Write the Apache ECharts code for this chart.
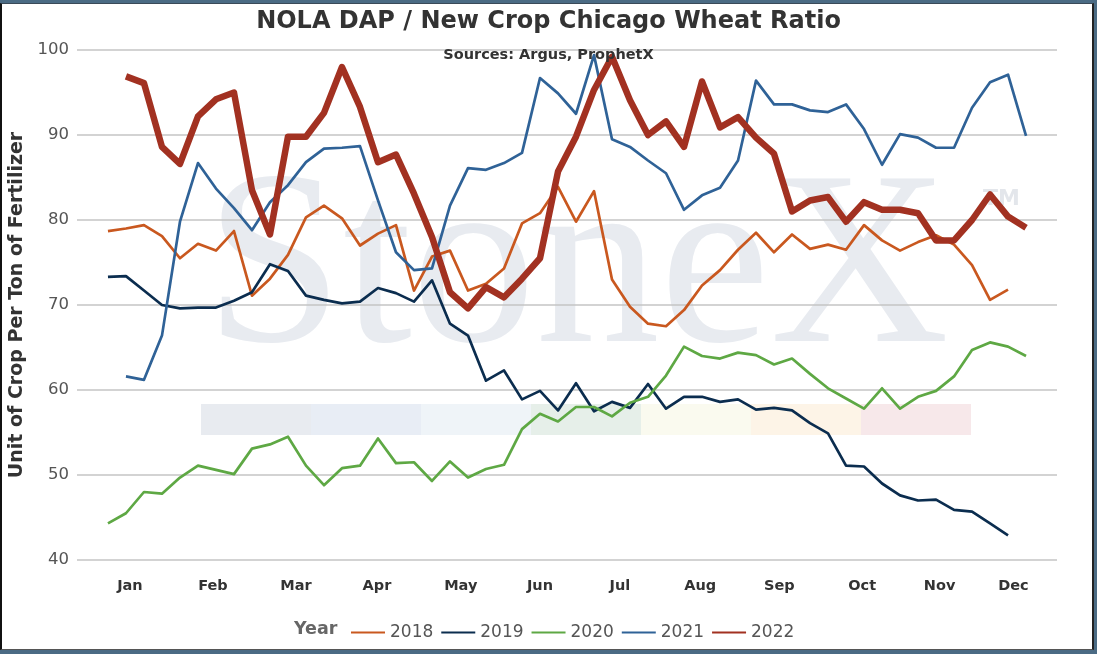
<!DOCTYPE html>
<html>
<head>
<meta charset="utf-8">
<title>NOLA DAP / New Crop Chicago Wheat Ratio</title>
<script src="https://cdn.jsdelivr.net/npm/echarts@6/dist/echarts.min.js"></script>
<style>
  html, body { margin: 0; padding: 0; background: #4b6b84; }
  #frame {
    position: absolute; left: 0; top: 3px; width: 1094px; height: 647px;
    background: #fff; border-left: 2px solid #111; border-right: 2px solid #222;
    border-top: 1px solid #3a4a58; border-bottom: 1px solid #555;
    box-sizing: border-box;
  }
  #chart { position: absolute; left: 0; top: 0; width: 1097px; height: 654px; }
</style>
</head>
<body>
<div id="frame"></div>
<div id="chart"></div>
<script>
// week-of-year index where each year's series starts
const start2018 = 0
const start2019 = 0
const start2020 = 0
const start2021 = 1
const start2022 = 1

const years = ['2018', '2019', '2020', '2021', '2022']

const v2018 = [78.7, 79.0, 79.4, 78.1, 75.5, 77.2, 76.4, 78.7, 71.1, 73.1,
  75.9, 80.3, 81.7, 80.2, 77.0, 78.4, 79.4, 71.7, 75.7, 76.4,
  71.7, 72.5, 74.3, 79.6, 80.8, 83.9, 79.8, 83.4, 73.0, 69.8,
  67.8, 67.5, 69.4, 72.3, 74.1, 76.5, 78.5, 76.2, 78.3, 76.6,
  77.1, 76.5, 79.4, 77.6, 76.4, 77.4, 78.2, 77.1, 74.7, 70.6, 71.8]

const v2019 = [73.3, 73.4, 71.7, 70.0, 69.6, 69.7, 69.7, 70.5, 71.5, 74.8,
  74.0, 71.1, 70.6, 70.2, 70.4, 72.0, 71.4, 70.4, 72.9, 67.8,
  66.4, 61.1, 62.3, 58.9, 59.9, 57.6, 60.8, 57.5, 58.6, 57.9,
  60.7, 57.8, 59.2, 59.2, 58.6, 58.9, 57.7, 57.9, 57.6, 56.1,
  54.9, 51.1, 51.0, 49.0, 47.6, 47.0, 47.1, 45.9, 45.7, 44.3, 42.9]

const v2020 = [44.3, 45.5, 48.0, 47.8, 49.7, 51.1, 50.6, 50.1, 53.1, 53.6,
  54.5, 51.1, 48.8, 50.8, 51.1, 54.3, 51.4, 51.5, 49.3, 51.6,
  49.7, 50.7, 51.2, 55.4, 57.2, 56.3, 58.0, 58.0, 56.9, 58.5,
  59.2, 61.7, 65.1, 64.0, 63.7, 64.4, 64.1, 63.0, 63.7, 61.9,
  60.2, 59.0, 57.8, 60.2, 57.8, 59.2, 59.9, 61.6, 64.7, 65.6, 65.1, 64.0]

const v2021 = [61.6, 61.2, 66.4, 79.8, 86.7, 83.7, 81.4, 78.8, 82.1, 84.1,
  86.8, 88.4, 88.5, 88.7, 82.3, 76.2, 74.1, 74.3, 81.7, 86.1,
  85.9, 86.7, 87.9, 96.7, 94.9, 92.5, 99.4, 89.5, 88.6, 87.0,
  85.5, 81.2, 82.9, 83.8, 87.0, 96.4, 93.6, 93.6, 92.9, 92.7,
  93.6, 90.7, 86.5, 90.1, 89.7, 88.5, 88.5, 93.2, 96.2, 97.1, 89.9]

const v2022 = [96.9, 96.1, 88.6, 86.6, 92.2, 94.2, 95.0, 83.5, 78.3, 89.8,
  89.8, 92.6, 98.0, 93.3, 86.8, 87.7, 83.1, 78.0, 71.5, 69.6,
  72.1, 70.9, 73.1, 75.5, 85.7, 89.8, 95.3, 99.2, 94.1, 90.0,
  91.6, 88.6, 96.3, 90.9, 92.1, 89.7, 87.8, 81.0, 82.3, 82.7,
  79.8, 82.1, 81.2, 81.2, 80.8, 77.6, 77.6, 80.0, 83.0, 80.4, 79.1]

// month tick labels and where they sit on the week scale
const monthNames = ['Jan', 'Feb', 'Mar', 'Apr', 'May', 'Jun', 'Jul', 'Aug', 'Sep', 'Oct', 'Nov', 'Dec']
const monthTicks = [1.22, 5.83, 10.44, 14.94, 19.6, 24.0, 28.44, 32.9, 37.3, 41.9, 46.2, 50.3]

const yTicks = [40, 50, 60, 70, 80, 90, 100]

const chart = echarts.init(document.getElementById('chart'))

function toPoints(values, startWeek) {
  return values.map((v, i) => [startWeek + i, v])
}

const seriesInfo = [
  { name: '2018', data: toPoints(v2018, start2018), color: '#c9581f', width: 2.7 },
  { name: '2019', data: toPoints(v2019, start2019), color: '#0b2d4f', width: 2.7 },
  { name: '2020', data: toPoints(v2020, start2020), color: '#5ea844', width: 2.7 },
  { name: '2021', data: toPoints(v2021, start2021), color: '#2f6297', width: 2.7 },
  { name: '2022', data: toPoints(v2022, start2022), color: '#a23121', width: 6.5 }
]

// StoneX logo strip colours (watermark)
const stripColors = ['#e8ebf0', '#e8edf5', '#eff4f8', '#e6efe9', '#fafaef', '#fdf4e7', '#f7e8ea']

const graphics = [
  {
    type: 'text', z: -10, left: 205, top: 152,
    style: { text: 'StoneX', font: 'normal 248px "Liberation Serif"', fill: '#e8ebf0' }
  },
  {
    type: 'text', z: -10, left: 983, top: 188,
    style: { text: 'TM', font: 'bold 22px "DejaVu Sans"', fill: '#e3e6eb' }
  },
  {
    type: 'text', left: 294, top: 620,
    style: { text: 'Year', font: 'bold 17.5px "DejaVu Sans"', fill: '#666' }
  }
]
stripColors.forEach((c, i) => {
  graphics.push({
    type: 'rect', z: -10,
    shape: { x: 201 + i * 110, y: 404, width: 110, height: 31 },
    style: { fill: c }
  })
})

const option = {
  animation: false,
  textStyle: { fontFamily: 'DejaVu Sans' },
  title: [
    {
      text: 'NOLA DAP / New Crop Chicago Wheat Ratio',
      left: 'center', top: 5,
      textStyle: { fontSize: 24, fontWeight: 'bold', color: '#333' }
    },
    {
      text: 'Sources: Argus, ProphetX',
      left: 'center', top: 43,
      textStyle: { fontSize: 14.5, fontWeight: 'bold', color: '#333' }
    }
  ],
  graphic: graphics,
  grid: { left: 77, right: 40, top: 50, bottom: 94, containLabel: false, outerBoundsMode: 'none' },
  legend: {
    data: years,
    left: 346, top: 619,
    itemWidth: 34, itemHeight: 12, itemGap: 8,
    icon: 'path://M0,5 L34,5 L34,7 L0,7 Z',
    textStyle: { fontSize: 17, color: '#555' }
  },
  xAxis: {
    type: 'value',
    min: -1.72, max: 52.72,
    axisLine: { show: false },
    axisTick: { show: false },
    splitLine: { show: false },
    axisLabel: {
      customValues: monthTicks,
      formatter: v => monthNames[monthTicks.indexOf(v)] || '',
      fontSize: 14.5, fontWeight: 'bold', color: '#333', margin: 19
    }
  },
  yAxis: {
    type: 'value',
    min: yTicks[0], max: yTicks[yTicks.length - 1], interval: 10,
    name: 'Unit of Crop Per Ton of Fertilizer',
    nameLocation: 'middle', nameGap: 48,
    nameTextStyle: { fontSize: 19, fontWeight: 'bold', color: '#333' },
    axisLine: { show: false },
    axisTick: { show: false },
    axisLabel: { fontSize: 16.5, color: '#555', margin: 8 },
    splitLine: { lineStyle: { color: '#c4c4c4', width: 1.5 } }
  },
  series: seriesInfo.map(s => ({
    name: s.name,
    type: 'line',
    data: s.data,
    showSymbol: false,
    symbol: 'none',
    color: s.color,
    lineStyle: { color: s.color, width: s.width, join: 'round' },
    z: 3
  }))
}

chart.setOption(option)
</script>
</body>
</html>
